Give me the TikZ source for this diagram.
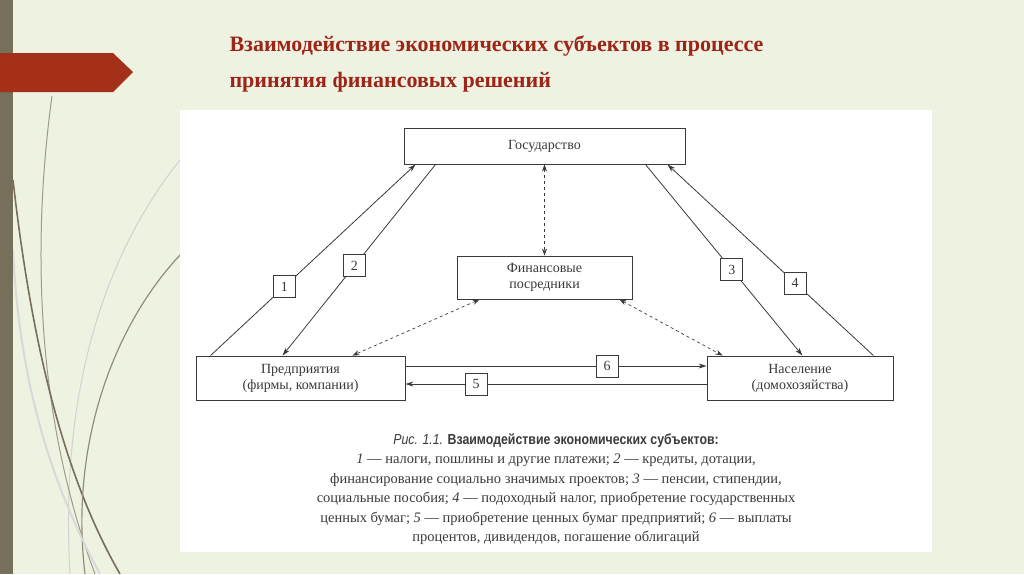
\documentclass[tikz,border=0pt]{standalone}
\usepackage{fontspec}
\setmainfont{Liberation Serif}
\newfontfamily\capsans{Liberation Sans}[FakeStretch=0.85]
\usetikzlibrary{arrows.meta}
\definecolor{bgA}{HTML}{EEF2E0}
\definecolor{olive}{HTML}{76705A}
\definecolor{banner}{HTML}{A5301A}
\definecolor{titlered}{HTML}{9C2418}
\definecolor{ink}{HTML}{3A3A3A}
\tikzset{
  box/.style={draw=ink,line width=0.9pt,fill=white,text=ink,font=\fontsize{14}{16}\selectfont,align=center,inner sep=0pt},
  numbox/.style={draw=ink,line width=0.8pt,fill=white,text=ink,font=\fontsize{14}{14}\selectfont,minimum width=22pt,minimum height=22pt,inner sep=0pt},
  flow/.style={draw=ink,line width=0.8pt,-{Stealth[length=8pt,width=5pt]}},
  dflow/.style={draw=ink,line width=0.7pt,dashed,{Stealth[length=7pt,width=5pt]}-{Stealth[length=7pt,width=5pt]}},
  captext/.style={text=ink,font=\fontsize{14.5}{19.5}\selectfont,align=center}
}
\begin{document}
\begin{tikzpicture}[x=1pt,y=-1pt]
\useasboundingbox (0,0) rectangle (1024,574);
\fill[bgA] (0,0) rectangle (1024,574);
% decorative curves
\draw[gray!35,line width=1pt] (180,160) .. controls (100,260) and (60,400) .. (70,574);
\draw[olive!70,line width=1pt] (52,96) .. controls (35,220) and (30,400) .. (95,574);
\draw[olive,line width=1.6pt] (13,180) .. controls (30,330) and (60,470) .. (120,574);
\draw[olive!80,line width=1.2pt] (180,255) .. controls (110,330) and (70,450) .. (85,574);
\draw[gray!30,line width=2pt] (13,250) .. controls (20,400) and (60,500) .. (100,574);
\fill[olive] (0,0) rectangle (13,574);
\fill[banner] (0,53) -- (113,53) -- (133,72) -- (113,92) -- (0,92) -- cycle;
\node[anchor=west,text=titlered,font=\bfseries\fontsize{22}{26}\selectfont] (t1) at (226,46) {Взаимодействие экономических субъектов в процессе};
\node[anchor=west,text=titlered,font=\bfseries\fontsize{22}{26}\selectfont] (t2) at (226,82) {принятия финансовых решений};
\fill[white] (180,110) rectangle (932,552);
% boxes
\node[box,minimum width=281pt,minimum height=36pt] (gov) at (544.5,146) {Государство};
\node[box,minimum width=175pt,minimum height=43pt] (fin) at (544.5,277.5) {Финансовые\\посредники};
\node[box,minimum width=209pt,minimum height=44pt] (pred) at (300.5,378) {Предприятия\\(фирмы, компании)};
\node[box,minimum width=186pt,minimum height=44pt] (nas) at (800,378) {Население\\(домохозяйства)};
% flows
\draw[flow] ([xshift=15]pred.north west) -- ([xshift=12]gov.south west) node[numbox,pos=0.36] {1};
\draw[flow] ([xshift=32]gov.south west) -- ([xshift=87]pred.north west) node[numbox,pos=0.53] {2};
\draw[flow] ([xshift=-40]gov.south east) -- ([xshift=-91]nas.north east) node[numbox,pos=0.55] {3};
\draw[flow] ([xshift=-20]nas.north east) -- ([xshift=-18]gov.south east) node[numbox,pos=0.38] {4};
\draw[flow] ([yshift=-6]nas.west) -- ([yshift=-6]pred.east) node[numbox,pos=0.765] {5};
\draw[flow] ([yshift=12]pred.east) -- ([yshift=12]nas.west) node[numbox,pos=0.67] {6};
\draw[dflow] (gov.south) -- (fin.north);
\draw[dflow] ([xshift=23]fin.south west) -- ([xshift=-53]pred.north east);
\draw[dflow] ([xshift=-13]fin.south east) -- ([xshift=16]nas.north west);
% caption
\node[captext,anchor=north] (capt) at (556,430) {{\capsans\itshape Рис. 1.1. }{\capsans\bfseries Взаимодействие экономических субъектов:}\\
\textit{1} — налоги, пошлины и другие платежи; \textit{2} — кредиты, дотации,\\
финансирование социально значимых проектов; \textit{3} — пенсии, стипендии,\\
социальные пособия; \textit{4} — подоходный налог, приобретение государственных\\
ценных бумаг; \textit{5} — приобретение ценных бумаг предприятий; \textit{6} — выплаты\\
процентов, дивидендов, погашение облигаций};
\end{tikzpicture}
\end{document}
